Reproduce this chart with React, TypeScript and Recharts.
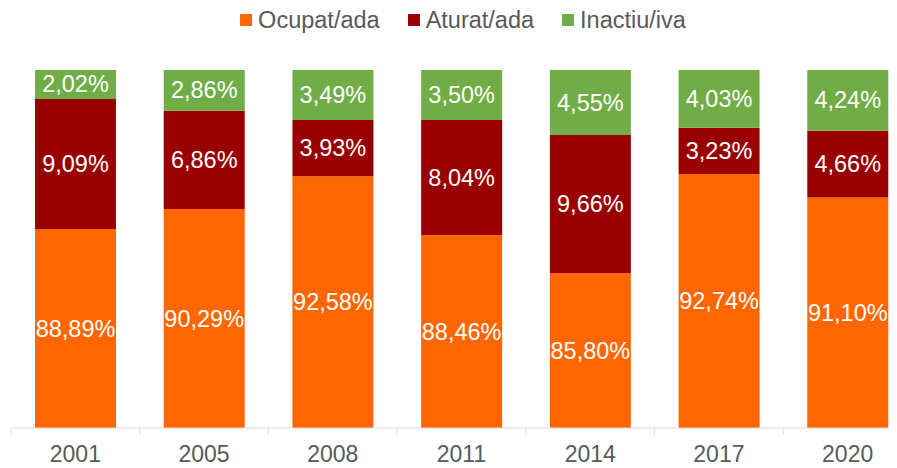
import { BarChart, Bar, XAxis, YAxis, Legend, LabelList } from "recharts";

const years = ["2001", "2005", "2008", "2011", "2014", "2017", "2020"];
const ocupat = [88.89, 90.29, 92.58, 88.46, 85.8, 92.74, 91.1];
const aturat = [9.09, 6.86, 3.93, 8.04, 9.66, 3.23, 4.66];
const inactiu = [2.02, 2.86, 3.49, 3.5, 4.55, 4.03, 4.24];
const yDomain = [75, 100];

const series = [
  { key: "ocupat", name: "Ocupat/ada", color: "#FF6600" },
  { key: "aturat", name: "Aturat/ada", color: "#990000" },
  { key: "inactiu", name: "Inactiu/iva", color: "#70AD47" },
];

const data = years.map((year, i) => ({
  year,
  ocupat: ocupat[i],
  aturat: aturat[i],
  inactiu: inactiu[i],
}));

// layout
const W = 922;
const H = 468;
const MARGIN = { top: 70, right: 10, bottom: 0, left: 11 };
const XAXIS_H = 40;
const PLOT_BOTTOM = H - MARGIN.bottom - XAXIS_H;
const TICK_SIZE = 7;
const TEXT = "#595959";
const FONT = "'Liberation Sans', Arial, sans-serif";

const fmt = (v: number) => v.toFixed(2).replace(".", ",") + "%";

// label centred on the visible part of the segment (the orange one is cut at the axis)
const SegmentLabel = (props: any) => {
  const vb = props.viewBox ?? props;
  const { x, y, width, height } = vb;
  const top = Math.min(y, y + height);
  const bottom = Math.min(Math.max(y, y + height), PLOT_BOTTOM);
  return (
    <text
      x={x + width / 2}
      y={(top + bottom) / 2}
      textAnchor="middle"
      dominantBaseline="central"
      fill="#ffffff"
      fontSize={23.5}
    >
      {fmt(Number(props.value))}
    </text>
  );
};

// year label in the middle, tick mark on the category boundary (Excel style)
const YearTick = (props: any) => {
  const { x, y, payload } = props;
  const axisY = y - TICK_SIZE;
  const half = payload?.offset ?? (W - MARGIN.left - MARGIN.right) / years.length / 2;
  return (
    <g>
      <line x1={x - half} x2={x - half} y1={axisY} y2={axisY + TICK_SIZE} stroke="#d9d9d9" />
      <text x={x} y={axisY + 34} textAnchor="middle" fill={TEXT} fontSize={23}>
        {payload.value}
      </text>
    </g>
  );
};

const LegendContent = () => (
  <div
    style={{
      display: "flex",
      justifyContent: "center",
      alignItems: "center",
      gap: 28,
      fontSize: 23.5,
      lineHeight: "24px",
      color: TEXT,
    }}
  >
    {series.map((s) => (
      <div key={s.key} style={{ display: "flex", alignItems: "center" }}>
        <span style={{ width: 12, height: 12, background: s.color, marginRight: 6 }} />
        {s.name}
      </div>
    ))}
  </div>
);

export default function App() {
  return (
    <div
      style={{
        marginTop: -8,
        marginLeft: -8,
        width: 897,
        height: H,
        overflow: "hidden",
        fontFamily: FONT,
      }}
    >
      <BarChart width={W} height={H} data={data} margin={MARGIN}>
        <XAxis
          dataKey="year"
          height={XAXIS_H}
          interval={0}
          axisLine={{ stroke: "#d9d9d9" }}
          tickLine={false}
          tickSize={TICK_SIZE}
          tickMargin={0}
          tick={<YearTick />}
        />
        <YAxis hide domain={yDomain} allowDataOverflow />
        <Legend
          verticalAlign="middle"
          align="center"
          layout="horizontal"
          wrapperStyle={{ top: 8, left: 0, width: 926 }}
          content={<LegendContent />}
        />
        {series.map((s) => (
          <Bar
            key={s.key}
            dataKey={s.key}
            name={s.name}
            stackId="a"
            fill={s.color}
            barSize={81}
            isAnimationActive={false}
          >
            <LabelList dataKey={s.key} content={<SegmentLabel />} />
          </Bar>
        ))}
      </BarChart>
    </div>
  );
}
